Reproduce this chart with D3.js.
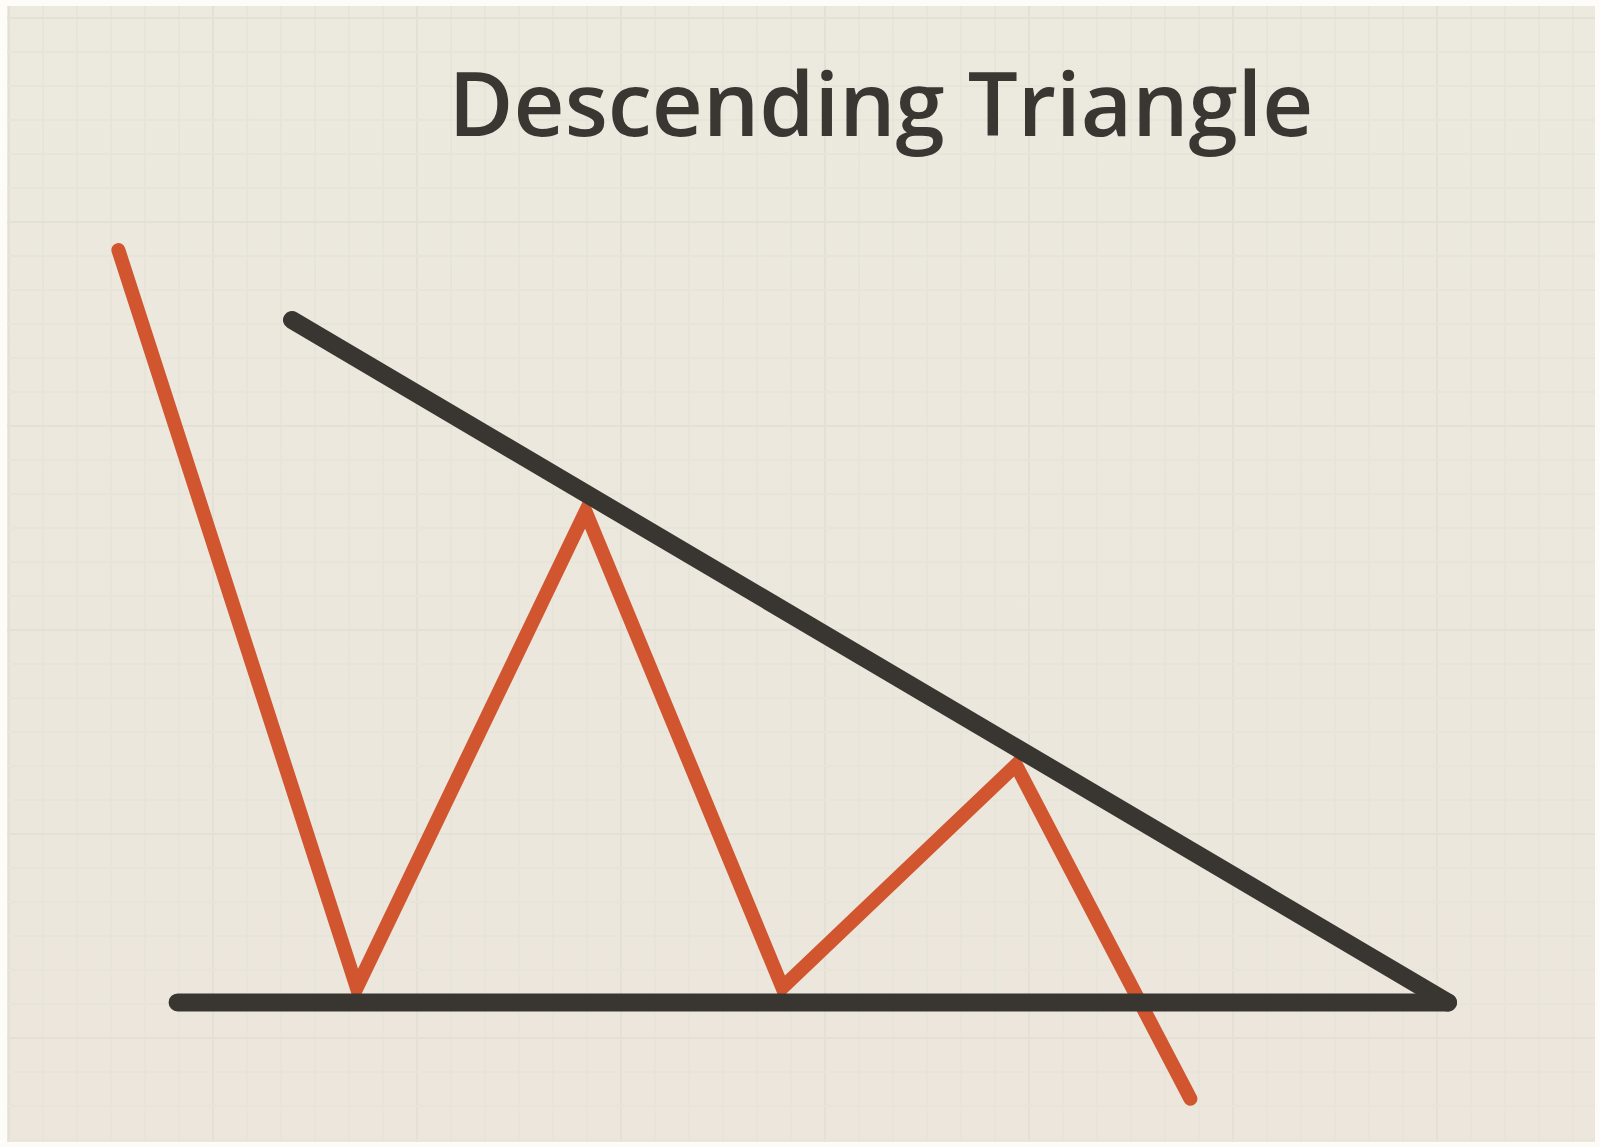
<!DOCTYPE html>
<html lang="en">
<head>
    <meta charset="UTF-8">
    <title>Descending Triangle</title>
    <script src="https://cdn.jsdelivr.net/npm/d3@7"></script>
    <style>
        html, body { margin: 0; padding: 0; background: #fdfcf8; }
        svg { display: block; }
    </style>
</head>
<body>
    <div id="chart"></div>
    <script>
        // Chart values: x = time, y = price (arbitrary units 0-100)
        const priceX = [7.4, 22.3, 36.6, 48.9, 63.5, 74.4];
        const priceY = [78.2, 13.9, 55.4, 13.9, 33.3, 4.2];

        const resistanceX = [18.25, 90.5];
        const resistanceY = [72.1, 12.6];

        const supportX = [11.1, 90.5];
        const supportY = [12.6, 12.6];

        const title = 'Descending Triangle';

        const width = 1600;
        const height = 1147;

        const svg = d3.select('#chart')
            .append('svg')
            .attr('width', width)
            .attr('height', height);

        const x = d3.scaleLinear().domain([0, 100]).range([0, width]);
        const y = d3.scaleLinear().domain([0, 100]).range([height, 0]);

        // paper background
        const defs = svg.append('defs');
        const grad = defs.append('linearGradient')
            .attr('id', 'paper')
            .attr('x1', 0).attr('y1', 0).attr('x2', 0).attr('y2', 1);
        grad.append('stop').attr('offset', '0%').attr('stop-color', '#ece9df');
        grad.append('stop').attr('offset', '100%').attr('stop-color', '#ece6dc');

        svg.append('rect')
            .attr('x', 7).attr('y', 6)
            .attr('width', 1588).attr('height', 1136)
            .attr('fill', 'url(#paper)');

        // faint graph-paper grid
        const grid = svg.append('g').attr('class', 'grid');
        d3.range(9, 1595, 34).forEach((gx, i) => {
            grid.append('line')
                .attr('x1', gx).attr('x2', gx)
                .attr('y1', 6).attr('y2', 1142)
                .attr('stroke', i % 6 === 0 ? '#e3e0d5' : '#e7e4da')
                .attr('stroke-width', 2);
        });
        d3.range(18, 1142, 34).forEach((gy, i) => {
            grid.append('line')
                .attr('x1', 7).attr('x2', 1595)
                .attr('y1', gy).attr('y2', gy)
                .attr('stroke', i % 6 === 0 ? '#e3e0d5' : '#e7e4da')
                .attr('stroke-width', 2);
        });

        const line = d3.line()
            .x(d => x(d[0]))
            .y(d => y(d[1]));

        // price path
        svg.append('path')
            .datum(d3.zip(priceX, priceY))
            .attr('d', line)
            .attr('fill', 'none')
            .attr('stroke', '#d1552f')
            .attr('stroke-width', 14)
            .attr('stroke-linejoin', 'miter')
            .attr('stroke-linecap', 'round');

        // trend lines
        [[resistanceX, resistanceY], [supportX, supportY]].forEach(([xs, ys]) => {
            svg.append('path')
                .datum(d3.zip(xs, ys))
                .attr('d', line)
                .attr('fill', 'none')
                .attr('stroke', '#393632')
                .attr('stroke-width', 18)
                .attr('stroke-linecap', 'round');
        });

        // title
        const t = svg.append('text')
            .attr('x', 881)
            .attr('y', 136)
            .attr('text-anchor', 'middle')
            .attr('font-family', '"Open Sans", sans-serif')
            .attr('font-weight', 600)
            .attr('font-size', 82)
            .attr('fill', '#3a3733')
            .text(title);
        const w = t.node().getComputedTextLength();
        t.attr('font-size', 82 * 865 / w);
    </script>
</body>
</html>
